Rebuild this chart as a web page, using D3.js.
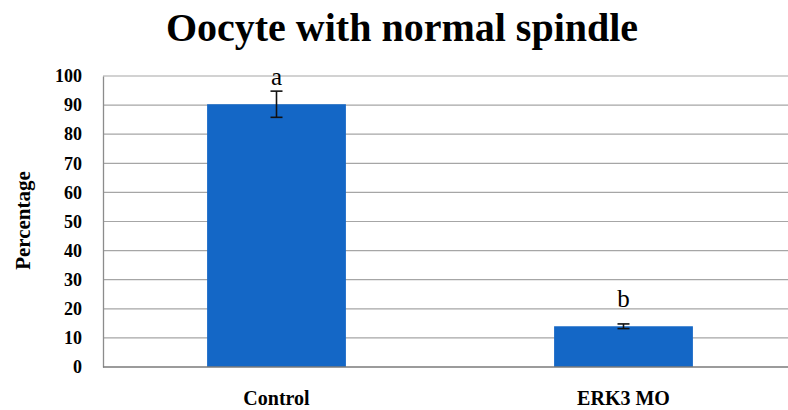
<!DOCTYPE html>
<html>
<head>
<meta charset="utf-8">
<script src="https://cdn.jsdelivr.net/npm/d3@7"></script>
<style>
  html, body { margin: 0; padding: 0; background: #fff; }
  svg { display: block; }
</style>
</head>
<body>
<svg id="chart" width="788" height="410"></svg>
<script>
// Percentage of oocytes with a normal spindle, mean ± error
const categories = ["Control", "ERK3 MO"];
const values = [90.3, 14.0];
const errors = [4.5, 0.8];
const letters = ["a", "b"];
const yTicks = [0, 10, 20, 30, 40, 50, 60, 70, 80, 90, 100];

const svg = d3.select("#chart");
const W = 788, H = 410;
const margin = { left: 103, right: -9, top: 76, bottom: 43 };
const plotW = W - margin.left - margin.right;
const plotH = H - margin.top - margin.bottom;

const x = d3.scaleBand().domain(categories).range([0, plotW]).paddingInner(0.6).paddingOuter(0.3);
const y = d3.scaleLinear().domain([0, 100]).range([plotH, 0]);

const serif = "'Liberation Serif', 'Times New Roman', serif";

// Title
svg.append("text")
  .attr("x", 402).attr("y", 41)
  .attr("text-anchor", "middle")
  .attr("font-family", serif)
  .attr("font-weight", "bold")
  .attr("font-size", 40)
  .attr("fill", "#000")
  .text("Oocyte with normal spindle");

const g = svg.append("g").attr("transform", `translate(${margin.left},${margin.top})`);

// Horizontal gridlines
g.append("g")
  .selectAll("line")
  .data(yTicks.filter(t => t > 0))
  .join("line")
  .attr("x1", 0).attr("x2", plotW)
  .attr("y1", d => y(d)).attr("y2", d => y(d))
  .attr("stroke", "#a6a6a6")
  .attr("stroke-width", 1.2);

// Bars
g.append("g")
  .selectAll("rect")
  .data(categories)
  .join("rect")
  .attr("x", d => x(d))
  .attr("width", x.bandwidth())
  .attr("y", (d, i) => y(values[i]))
  .attr("height", (d, i) => y(0) - y(values[i]))
  .attr("fill", "#1467c6");

// Error bars
const eb = g.append("g").attr("stroke", "#111").attr("stroke-width", 1.6);
categories.forEach((c, i) => {
  const cx = x(c) + x.bandwidth() / 2;
  const hi = y(values[i] + errors[i]);
  const lo = y(values[i] - errors[i]);
  eb.append("line").attr("x1", cx).attr("x2", cx).attr("y1", hi).attr("y2", lo);
  eb.append("line").attr("x1", cx - 6).attr("x2", cx + 6).attr("y1", hi).attr("y2", hi);
  eb.append("line").attr("x1", cx - 6).attr("x2", cx + 6).attr("y1", lo).attr("y2", lo);
});

// Significance letters
g.append("g")
  .selectAll("text")
  .data(categories)
  .join("text")
  .attr("x", d => x(d) + x.bandwidth() / 2)
  .attr("y", (d, i) => y(values[i]) - 19)
  .attr("text-anchor", "middle")
  .attr("font-family", serif)
  .attr("font-size", 25)
  .attr("fill", "#000")
  .text((d, i) => letters[i]);

// Y axis
const yAxis = g.append("g")
  .call(d3.axisLeft(y).tickValues(yTicks).tickSize(0).tickPadding(21));
yAxis.select(".domain").attr("stroke", "#8c8c8c").attr("stroke-width", 1.3);
yAxis.selectAll("text")
  .attr("font-family", serif)
  .attr("font-weight", "bold")
  .attr("font-size", 18)
  .attr("fill", "#000");

// X axis line at zero
g.append("line")
  .attr("x1", 0).attr("x2", plotW)
  .attr("y1", y(0)).attr("y2", y(0))
  .attr("stroke", "#7a7a7a")
  .attr("stroke-width", 1.5);

// Category labels
g.append("g")
  .selectAll("text")
  .data(categories)
  .join("text")
  .attr("x", d => x(d) + x.bandwidth() / 2)
  .attr("y", plotH + 38)
  .attr("text-anchor", "middle")
  .attr("font-family", serif)
  .attr("font-weight", "bold")
  .attr("font-size", 20)
  .attr("fill", "#000")
  .text(d => d);

// Y axis title
svg.append("text")
  .attr("transform", `translate(30,${margin.top + plotH / 2 - 1}) rotate(-90)`)
  .attr("text-anchor", "middle")
  .attr("font-family", serif)
  .attr("font-weight", "bold")
  .attr("font-size", 21)
  .attr("fill", "#000")
  .text("Percentage");
</script>
</body>
</html>
